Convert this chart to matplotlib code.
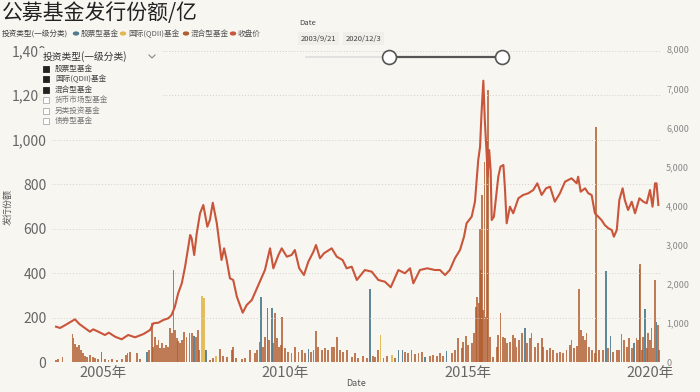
import matplotlib
matplotlib.use('Agg')
import matplotlib.pyplot as plt
from matplotlib.patches import Rectangle, Circle
from matplotlib.lines import Line2D
from matplotlib.ticker import FuncFormatter

plt.rcParams['font.family'] = ['Noto Sans CJK SC', 'DejaVu Sans']

# 收盘价 (right axis), time in decimal years
line_t = [2003.71, 2003.82, 2004.00, 2004.23, 2004.35, 2004.51, 2004.64, 2004.73, 2004.87, 2005.05,
          2005.16, 2005.33, 2005.51, 2005.69, 2005.88, 2006.11, 2006.29, 2006.38, 2006.52, 2006.65,
          2006.79, 2006.88, 2006.97, 2007.06, 2007.16, 2007.25, 2007.31, 2007.39, 2007.43, 2007.50,
          2007.57, 2007.66, 2007.75, 2007.86, 2007.93, 2008.01, 2008.12, 2008.25, 2008.32, 2008.39,
          2008.48, 2008.57, 2008.67, 2008.83, 2008.94, 2009.08, 2009.26, 2009.44, 2009.58, 2009.67,
          2009.81, 2009.90, 2010.04, 2010.17, 2010.26, 2010.38, 2010.51, 2010.63, 2010.77, 2010.84,
          2010.95, 2011.06, 2011.27, 2011.41, 2011.57, 2011.68, 2011.82, 2011.96, 2012.18, 2012.37,
          2012.55, 2012.73, 2012.89, 2013.10, 2013.28, 2013.42, 2013.51, 2013.69, 2013.89, 2014.10,
          2014.24, 2014.38, 2014.51, 2014.65, 2014.79, 2014.90, 2014.97, 2015.11, 2015.20, 2015.29,
          2015.34, 2015.38, 2015.43, 2015.47, 2015.52, 2015.55, 2015.59, 2015.63, 2015.66, 2015.72,
          2015.84, 2015.90, 2015.98, 2016.02, 2016.07, 2016.16, 2016.25, 2016.39, 2016.52, 2016.66,
          2016.80, 2016.91, 2017.03, 2017.15, 2017.26, 2017.39, 2017.53, 2017.67, 2017.85, 2017.99,
          2018.03, 2018.10, 2018.22, 2018.31, 2018.40, 2018.49, 2018.58, 2018.67, 2018.76, 2018.86,
          2018.95, 2019.01, 2019.09, 2019.16, 2019.25, 2019.31, 2019.40, 2019.50, 2019.59, 2019.71,
          2019.82, 2019.91, 2020.00, 2020.07, 2020.14, 2020.18, 2020.23]
line_v = [903, 870, 964, 1092, 972, 862, 775, 836, 775, 691,
          750, 647, 581, 691, 632, 716, 819, 990, 1005, 1074,
          1118, 1202, 1415, 1757, 2013, 2438, 2781, 3249, 3164, 2737,
          3292, 3804, 4016, 3461, 3632, 4075, 3548, 2609, 2908, 2609,
          2141, 2098, 1670, 1261, 1458, 1586, 1970, 2353, 2908, 2397,
          2737, 2908, 2694, 2737, 2865, 2397, 2225, 2566, 2821, 2993,
          2653, 2781, 2908, 2694, 2609, 2397, 2438, 2098, 2353, 2310,
          2098, 2054, 1911, 2353, 2269, 2397, 2013, 2353, 2397, 2353,
          2353, 2225, 2353, 2653, 2865, 3205, 3548, 3717, 4100, 5167,
          5507, 6362, 7196, 6190, 5339, 4740, 5423, 4911, 3632, 3717,
          4740, 4996, 5039, 4484, 3548, 3973, 3804, 4187, 4272, 4315,
          4400, 4571, 4272, 4443, 4484, 4100, 4315, 4612, 4699, 4571,
          4740, 4356, 4443, 4315, 4272, 3804, 3717, 3632, 3504, 3420,
          3377, 3205, 3377, 4144, 4443, 4144, 3888, 4100, 3804, 4187,
          4100, 4060, 4400, 3973, 4571, 4571, 4016]

# 发行份额 (left axis)
hybrid_t = [2003.71, 2003.77, 2003.89, 2004.16, 2004.19, 2004.23, 2004.28, 2004.34, 2004.39, 2004.44,
            2004.51, 2004.57, 2004.64, 2004.72, 2004.78, 2004.87, 2005.05, 2005.15, 2005.24, 2005.38,
            2005.51, 2005.63, 2005.67, 2005.74, 2005.92, 2006.01, 2006.27, 2006.34, 2006.38, 2006.43,
            2006.47, 2006.52, 2006.56, 2006.61, 2006.67, 2006.73, 2006.79, 2006.84, 2006.88, 2006.93,
            2006.97, 2007.02, 2007.06, 2007.11, 2007.16, 2007.22, 2007.29, 2007.37, 2007.43, 2007.54,
            2007.60, 2007.64, 2007.93, 2008.02, 2008.21, 2008.28, 2008.39, 2008.53, 2008.57, 2008.65,
            2008.80, 2008.89, 2009.03, 2009.17, 2009.23, 2009.29, 2009.38, 2009.44, 2009.56, 2009.67,
            2009.72, 2009.76, 2009.82, 2009.87, 2009.91, 2009.99, 2010.08, 2010.17, 2010.26, 2010.36,
            2010.45, 2010.54, 2010.70, 2010.77, 2010.84, 2010.90, 2011.00, 2011.09, 2011.18, 2011.27,
            2011.33, 2011.41, 2011.50, 2011.59, 2011.68, 2011.82, 2011.91, 2012.00, 2012.14, 2012.23,
            2012.40, 2012.46, 2012.55, 2012.69, 2012.78, 2013.01, 2013.28, 2013.37, 2013.46, 2013.55,
            2013.65, 2013.74, 2013.97, 2014.06, 2014.17, 2014.24, 2014.33, 2014.56, 2014.65, 2014.74,
            2014.84, 2014.88, 2014.95, 2015.02, 2015.11, 2015.17, 2015.23, 2015.26, 2015.30, 2015.34,
            2015.37, 2015.39, 2015.43, 2015.46, 2015.49, 2015.52, 2015.56, 2015.61, 2015.70, 2015.80,
            2015.84, 2015.90, 2015.98, 2016.02, 2016.07, 2016.16, 2016.25, 2016.30, 2016.34, 2016.41,
            2016.48, 2016.62, 2016.71, 2016.75, 2016.85, 2016.94, 2017.03, 2017.07, 2017.17, 2017.26,
            2017.35, 2017.44, 2017.53, 2017.62, 2017.71, 2017.81, 2017.85, 2017.91, 2017.99, 2018.06,
            2018.10, 2018.17, 2018.22, 2018.26, 2018.33, 2018.40, 2018.49, 2018.52, 2018.61, 2018.72,
            2018.86, 2018.99, 2019.09, 2019.16, 2019.22, 2019.29, 2019.36, 2019.43, 2019.50, 2019.63,
            2019.68, 2019.72, 2019.78, 2019.82, 2019.91, 2019.95, 2020.00, 2020.04, 2020.09, 2020.14,
            2020.23, 2020.25]
hybrid_v = [9, 12, 24, 126, 106, 81, 69, 76, 54, 39,
            27, 24, 31, 21, 16, 12, 12, 9, 15, 9,
            12, 31, 42, 46, 39, 12, 54, 174, 69, 111,
            76, 99, 61, 84, 61, 76, 69, 151, 129, 416,
            144, 106, 96, 84, 99, 136, 114, 129, 129, 111,
            144, 54, 9, 16, 57, 27, 24, 54, 69, 16,
            12, 16, 54, 39, 54, 91, 69, 111, 99, 84,
            219, 106, 69, 76, 204, 61, 46, 39, 69, 46,
            54, 39, 46, 54, 141, 69, 54, 61, 54, 69,
            69, 114, 54, 46, 54, 24, 39, 16, 27, 16,
            27, 24, 54, 16, 27, 16, 46, 39, 54, 36,
            39, 46, 27, 31, 27, 39, 27, 39, 54, 106,
            61, 91, 117, 76, 84, 129, 249, 294, 264, 600,
            413, 750, 234, 900, 204, 1000, 1225, 114, 24, 69,
            121, 219, 111, 106, 84, 91, 121, 106, 69, 99,
            129, 84, 106, 129, 69, 84, 106, 69, 54, 61,
            54, 39, 46, 39, 54, 76, 99, 61, 72, 327,
            144, 117, 99, 129, 69, 54, 39, 1056, 54, 54,
            61, 46, 54, 54, 126, 99, 69, 106, 61, 106,
            99, 443, 54, 114, 61, 129, 99, 151, 61, 371,
            166, 54]
stock_t = [2004.96, 2006.20, 2007.50, 2007.82, 2009.33, 2009.51, 2009.63, 2010.63, 2012.32, 2013.10,
           2013.22, 2013.83, 2014.42, 2016.57, 2018.79, 2018.92, 2019.56, 2019.72, 2019.86, 2020.18]
stock_v = [46, 46, 117, 54, 291, 241, 241, 57, 327, 54,
           54, 24, 51, 151, 411, 117, 84, 420, 237, 181]
qdii_t = [2007.70, 2007.73, 2007.77, 2008.10, 2012.61, 2012.92]
qdii_v = [297, 297, 290, 27, 121, 31]

year_ticks = [2005, 2010, 2015, 2020]
left_ticks = [0, 200, 400, 600, 800, 1000, 1200, 1400]
right_ticks = [0, 1000, 2000, 3000, 4000, 5000, 6000, 7000, 8000]
legend_names = ['股票型基金', '国际(QDII)基金', '混合型基金', '收盘价']
filter_items = ['股票型基金', '国际(QDII)基金', '混合型基金', '货币市场型基金', '另类投资基金', '债券型基金']
filter_checked = [True, True, True, False, False, False]

bg = '#f8f6f1'
c_stock = '#4e7b8f'
c_qdii = '#e2b74d'
c_hybrid = '#b15c2e'
c_close = '#c9553a'
grey = '#666666'

W, H = 700, 392
fig = plt.figure(figsize=(7, 3.92), dpi=100, facecolor=bg)


def px(x, y):
    return x / W, 1 - y / H


ax = fig.add_axes([52 / W, 30 / H, 610 / W, 317 / H])
ax.set_facecolor(bg)
ax.bar(hybrid_t, hybrid_v, width=0.05, color=c_hybrid, alpha=0.8, linewidth=0)
ax.bar(stock_t, stock_v, width=0.04, color=c_stock, alpha=0.9, linewidth=0)
ax.bar(qdii_t, qdii_v, width=0.04, color=c_qdii, alpha=0.9, linewidth=0)
ax.set_xlim(2003.60, 2020.33)
ax.set_ylim(0, 1426)
ax.set_yticks(left_ticks)
ax.yaxis.set_major_formatter(FuncFormatter(lambda v, p: f'{int(v):,}'))
ax.set_xticks(year_ticks)
ax.set_xticklabels([f'{y}年' for y in year_ticks])
ax.tick_params(axis='both', length=0, colors=grey)
ax.tick_params(axis='y', labelsize=10, pad=4)
ax.tick_params(axis='x', labelsize=10.5, pad=3)
ax.grid(axis='y', linestyle=(0, (1, 2)), color='#d4d1cb', linewidth=0.7)
for s in ax.spines.values():
    s.set_visible(False)

ax2 = ax.twinx()
ax2.plot(line_t, line_v, color=c_close, linewidth=1.5)
ax2.set_ylim(0, 8109)
ax2.set_yticks(right_ticks)
ax2.yaxis.set_major_formatter(FuncFormatter(lambda v, p: f'{int(v):,}'))
ax2.tick_params(axis='y', length=0, colors='#888888', labelsize=6.5, pad=3)
for s in ax2.spines.values():
    s.set_visible(False)

# axis titles
fig.text(*px(356, 384), 'Date', fontsize=6.5, color='#555555', va='center', ha='center')
fig.text(*px(8, 207), '发行份额', fontsize=6.5, color='#555555', va='center', ha='center', rotation=90)

# title and legend row
fig.text(*px(2, 13), '公募基金发行份额/亿', fontsize=15, color='#222222', va='center', ha='left')
fig.text(*px(2, 33.5), '投资类型(一级分类)', fontsize=5.5, color='#444444', va='center')
leg_x = [76, 123, 186, 233]
leg_c = [c_stock, c_qdii, c_hybrid, c_close]
for x, c, name in zip(leg_x, leg_c, legend_names):
    fig.add_artist(Circle(px(x, 33.5), 2.5 / W, color=c, transform=fig.transFigure))
    fig.text(*px(x + 5, 33.5), name, fontsize=5.5, color='#555555', va='center')

# filter card
fig.add_artist(Rectangle(px(38, 128), 124 / W, 80 / H, transform=fig.transFigure,
                         facecolor=bg, edgecolor='none', alpha=0.93, zorder=5))
fig.text(*px(43, 57), '投资类型(一级分类)', fontsize=7, color='#333333', va='center', zorder=6)
fig.add_artist(Line2D([149 / W, 152 / W, 155 / W], [1 - 55 / H, 1 - 58 / H, 1 - 55 / H],
                      transform=fig.transFigure, color='#888888', linewidth=0.8, zorder=6))
rows = [68.7, 79.3, 89.6, 100, 110.5, 121]
for yy, name, on in zip(rows, filter_items, filter_checked):
    fig.add_artist(Rectangle(px(43, yy + 3), 6 / W, 6 / H, transform=fig.transFigure,
                             facecolor='#222222' if on else 'white',
                             edgecolor='#222222' if on else '#aaaaaa', linewidth=0.6, zorder=6))
    fig.text(*px(55, yy), name, fontsize=5.5, color='#444444' if on else '#777777', va='center', zorder=6)

# date slider
fig.text(*px(299, 23), 'Date', fontsize=5.5, color='#444444', va='center')
for x0, lab in [(298, '2003/9/21'), (343, '2020/12/3')]:
    fig.add_artist(Rectangle(px(x0, 45), 41 / W, 13 / H, transform=fig.transFigure,
                             facecolor='#f1efea', edgecolor='none'))
    fig.text(*px(x0 + 20.5, 39), lab, fontsize=5.5, color='#444444', va='center', ha='center')
fig.add_artist(Line2D([306 / W, 389 / W], [1 - 57 / H] * 2, transform=fig.transFigure,
                      color='#dddddd', linewidth=1.2))
fig.add_artist(Line2D([389 / W, 502 / W], [1 - 57 / H] * 2, transform=fig.transFigure,
                      color='#555555', linewidth=1.6))
for cx in [389, 502]:
    fig.add_artist(Line2D([cx / W], [1 - 57 / H], transform=fig.transFigure, marker='o',
                          markersize=10, markerfacecolor='white', markeredgecolor='#555555',
                          markeredgewidth=1.2))

fig.savefig('out.png', dpi=100, facecolor=bg)
